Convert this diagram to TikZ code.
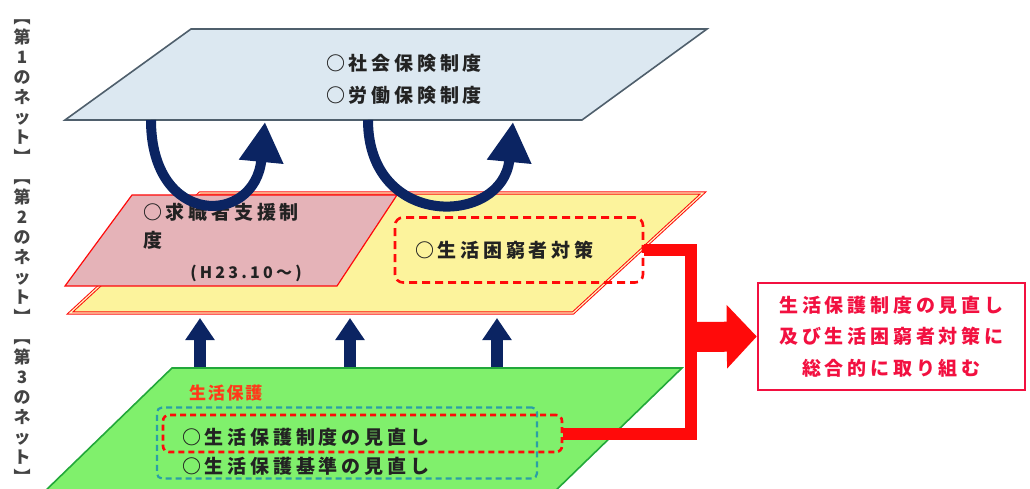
\documentclass[tikz,border=0pt]{standalone}
\usepackage{fontspec}
\newfontfamily\jp{Noto Sans CJK JP}
\usetikzlibrary{arrows.meta}
\definecolor{topfill}{HTML}{DCE8F1}
\definecolor{topedge}{HTML}{4F5F6C}
\definecolor{pinkfill}{HTML}{E5B3B8}
\definecolor{yellowfill}{HTML}{FCF39C}
\definecolor{greenfill}{HTML}{80F06C}
\definecolor{greenedge}{HTML}{22A83A}
\definecolor{navy}{HTML}{0B2462}
\definecolor{pred}{HTML}{FF0A0A}
\definecolor{teal}{HTML}{2A9FA6}
\definecolor{txtdark}{HTML}{222222}
\definecolor{boxred}{HTML}{F21040}
\definecolor{orangered}{HTML}{FF3A1A}
\tikzset{
  jpbig/.style={font=\jp\bfseries\fontsize{19}{32}\selectfont\addfontfeature{LetterSpace=20}, text=txtdark, inner sep=0pt},
  sidelabel/.style={font=\jp\bfseries\fontsize{17}{20}\selectfont, text=txtdark!85, inner sep=0pt, align=center},
  topplane/.style={fill=topfill, draw=topedge, line width=1.6pt, line join=miter},
  pinkplane/.style={fill=pinkfill, draw=pred, line width=1.2pt},
  yellowplane/.style={fill=yellowfill, draw=pred, line width=1pt, double=yellowfill!60!white, double distance=1.2pt},
  greenplane/.style={fill=greenfill, draw=greenedge, line width=1.6pt},
  reddash/.style={draw=pred, line width=2.6pt, dash pattern=on 8pt off 5pt, rounded corners=8pt},
  reddashsmall/.style={draw=pred, line width=2.6pt, dash pattern=on 6pt off 4pt, rounded corners=6pt},
  tealdash/.style={draw=teal, line width=2.2pt, dash pattern=on 6pt off 4pt, rounded corners=5pt},
  curvearrow/.style={draw=navy, line width=10pt, -{Triangle[length=40pt,width=42pt]}},
  uparrow/.style={draw=navy, line width=12pt, -{Triangle[length=22pt,width=28pt]}},
  redline/.style={draw=pred, line width=12pt, line join=miter},
  redblock/.style={draw=pred, line width=30pt, -{Triangle[length=30pt,width=62pt]}},
}
\begin{document}
\begin{tikzpicture}[x=1pt,y=-1pt]
\useasboundingbox (0,0) rectangle (1030,489);
\clip (0,0) rectangle (1030,489);

% side labels
\node[sidelabel] (net1) at (22,92) {︻\\第\\1\\の\\ネ\\ッ\\ト\\︼};
\node[sidelabel] (net2) at (22,252) {︻\\第\\2\\の\\ネ\\ッ\\ト\\︼};
\node[sidelabel] (net3) at (22,412) {︻\\第\\3\\の\\ネ\\ッ\\ト\\︼};

% top plane
\coordinate (t1) at (191,29);
\coordinate (t2) at (707,29);
\coordinate (t3) at (582,120);
\coordinate (t4) at (65,120);
\filldraw[topplane] (t1) -- (t2) -- (t3) -- (t4) -- cycle;
\node[jpbig, align=center] (toptext) at (404,79) {○社会保険制度\\○労働保険制度};

% yellow plane
\coordinate (y1) at (200,193);
\coordinate (y2) at (703,193);
\coordinate (y3) at (573,313);
\coordinate (y4) at (70,313);
\filldraw[yellowplane] (y1) -- (y2) -- (y3) -- (y4) -- cycle;

% pink plane
\coordinate (p1) at (132,195);
\coordinate (p2) at (397,195);
\coordinate (p3) at (337,286);
\coordinate (p4) at (65,286);
\filldraw[pinkplane] (p1) -- (p2) -- (p3) -- (p4) -- cycle;
\node[jpbig, font=\jp\bfseries\fontsize{19}{28}\selectfont\addfontfeature{LetterSpace=20}, align=left, anchor=north west] (pinktext) at (143,203) {○求職者支援制\\度};
\node[jpbig, font=\jp\bfseries\fontsize{16}{20}\selectfont\addfontfeature{LetterSpace=20}] (pinkdate) at (246,273) {(H23.10～)};

% yellow dashed box
\node[reddash, jpbig, minimum width=248pt, minimum height=65pt, text width=208pt, inner xsep=20pt, align=left] (sk) at (519,250) {○生活困窮者対策};

% green plane
\coordinate (g1) at (172,368);
\coordinate (g2) at (682,368);
\coordinate (g3) at (551,495);
\coordinate (g4) at (41,495);
\filldraw[greenplane] (g1) -- (g2) -- (g3) -- (g4) -- cycle;
\node[font=\jp\bfseries\fontsize{17}{20}\selectfont\addfontfeature{LetterSpace=10}, text=orangered, inner sep=0pt, anchor=west] (seikatsu) at (189,393) {生活保護};
\node[tealdash, minimum width=380pt, minimum height=71pt, inner sep=0pt] (tealbox) at (347,443) {};
\node[reddashsmall, minimum width=399pt, minimum height=37pt, inner sep=0pt] (hb) at (362.5,433.5) {};
\node[jpbig, anchor=west] (hbtext) at (182,437) {○生活保護制度の見直し};
\node[jpbig, anchor=west] (kijun) at (182,466) {○生活保護基準の見直し};

% curved arrows
\coordinate (ca1s) at (151,120);
\coordinate (ca1e) at (265,122);
\coordinate (ca2s) at (368,120);
\coordinate (ca2e) at (513,122);
\draw[curvearrow] (ca1s) .. controls (151,228) and (255,226) .. (ca1e);
\draw[curvearrow] (ca2s) .. controls (368,230) and (503,226) .. (ca2e);

% up arrows
\foreach \i/\x in {1/200,2/350,3/497}{
  \coordinate (ua\i s) at (\x,367);
  \coordinate (ua\i e) at (\x,318);
  \draw[uparrow] (ua\i s) -- (ua\i e);
}

% right box
\node[draw=boxred, line width=2.4pt, minimum width=267pt, minimum height=107pt, inner sep=0pt,
      font=\jp\bfseries\fontsize{19}{31.5}\selectfont\addfontfeature{LetterSpace=20}, text=boxred, align=center]
      (rb) at (891.5,336.5) {生活保護制度の見直し\\及び生活困窮者対策に\\総合的に取り組む};

% red connector
\coordinate (jx) at (691,0);
\coordinate (jc) at (691,337);
\draw[redline] (sk.east) -- (sk.east -| jx) -- (hb.east -| jx) -- (hb.east);
\draw[redblock] (jc) -- (rb.west);
\end{tikzpicture}
\end{document}
